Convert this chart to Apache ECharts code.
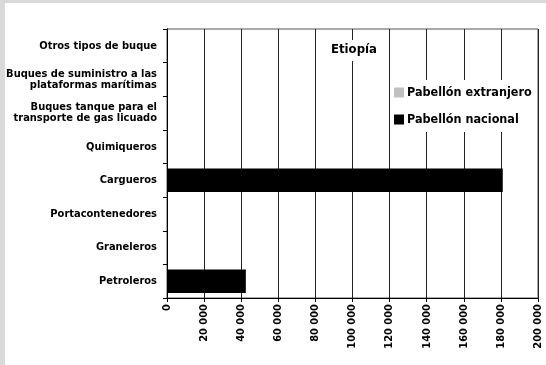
<!DOCTYPE html>
<html>
<head>
<meta charset="utf-8">
<script src="https://cdn.jsdelivr.net/npm/echarts@6/dist/echarts.min.js"></script>
<style>
  html, body { margin: 0; padding: 0; background: #d9d9d9; }
  #chart { width: 546px; height: 365px; }
</style>
</head>
<body>
<div id="chart"></div>
<script>
// categories, bottom to top
const categories = [
    'Petroleros',
    'Graneleros',
    'Portacontenedores',
    'Cargueros',
    'Quimiqueros',
    'Buques tanque para el\ntransporte de gas licuado',
    'Buques de suministro a las\nplataformas marítimas',
    'Otros tipos de buque'
];
const extranjero = [0, 0, 0, 0, 0, 0, 0, 0];
const nacional = [42500, 0, 0, 181000, 0, 0, 0, 0];
const xTicks = [0, 20000, 40000, 60000, 80000, 100000, 120000, 140000, 160000, 180000, 200000];

const FONT = '"Liberation Sans Narrow", "DejaVu Sans Condensed", Arial, sans-serif';

const chart = echarts.init(document.getElementById('chart'));

function fmt(v) {
    return String(v).replace(/\B(?=(\d{3})+(?!\d))/g, ' ');
}

chart.setOption({
    animation: false,
    backgroundColor: 'transparent',
    textStyle: { fontFamily: FONT, fontWeight: 'bold', color: '#000' },
    graphic: [{
        type: 'rect',
        z: -10,
        silent: true,
        shape: { x: 5, y: 3, width: 541, height: 362 },
        style: { fill: '#fff' }
    }],
    title: {
        text: 'Etiopía',
        left: 327,
        top: 40,
        padding: [3, 4, 5, 4],
        backgroundColor: '#fff',
        textStyle: { fontFamily: FONT, fontWeight: 'bold', fontSize: 13, color: '#000' }
    },
    legend: {
        orient: 'vertical',
        left: 390,
        top: 80,
        padding: [6, 4, 6, 4],
        itemGap: 14,
        itemWidth: 10,
        itemHeight: 10,
        backgroundColor: '#fff',
        selectedMode: false,
        icon: 'rect',
        textStyle: { fontFamily: FONT, fontWeight: 'bold', fontSize: 12.5, color: '#000', padding: [0, 0, 0, -2] },
        data: ['Pabellón extranjero', 'Pabellón nacional']
    },
    grid: {
        left: 167,
        top: 29,
        right: 8,
        bottom: 67,
        outerBoundsMode: 'none',
        show: true,
        borderColor: '#555',
        borderWidth: 1,
        backgroundColor: '#fff'
    },
    xAxis: {
        type: 'value',
        min: 0,
        max: 200000,
        interval: 20000,
        axisLine: { show: true, lineStyle: { color: '#000', width: 1 } },
        axisTick: { show: true, length: 4, lineStyle: { color: '#000' } },
        splitLine: { show: true, lineStyle: { color: '#222', width: 1 } },
        axisLabel: {
            rotate: 90,
            fontFamily: FONT,
            fontWeight: 'bold',
            fontSize: 11,
            color: '#000',
            margin: 6,
            formatter: function (v) { return xTicks.indexOf(v) >= 0 ? fmt(v) : ''; }
        }
    },
    yAxis: {
        type: 'category',
        data: categories,
        axisLine: { show: true, lineStyle: { color: '#000', width: 1 } },
        axisTick: { show: true, length: 4, lineStyle: { color: '#000' } },
        splitLine: { show: false },
        axisLabel: {
            fontFamily: FONT,
            fontWeight: 'bold',
            fontSize: 11,
            lineHeight: 11,
            color: '#000',
            margin: 10,
            align: 'right'
        }
    },
    series: [
        {
            name: 'Pabellón extranjero',
            type: 'bar',
            stack: 'total',
            barWidth: '70%',
            itemStyle: { color: '#c0c0c0' },
            data: extranjero
        },
        {
            name: 'Pabellón nacional',
            type: 'bar',
            stack: 'total',
            barWidth: '70%',
            itemStyle: { color: '#000' },
            data: nacional
        }
    ]
});
</script>
</body>
</html>
